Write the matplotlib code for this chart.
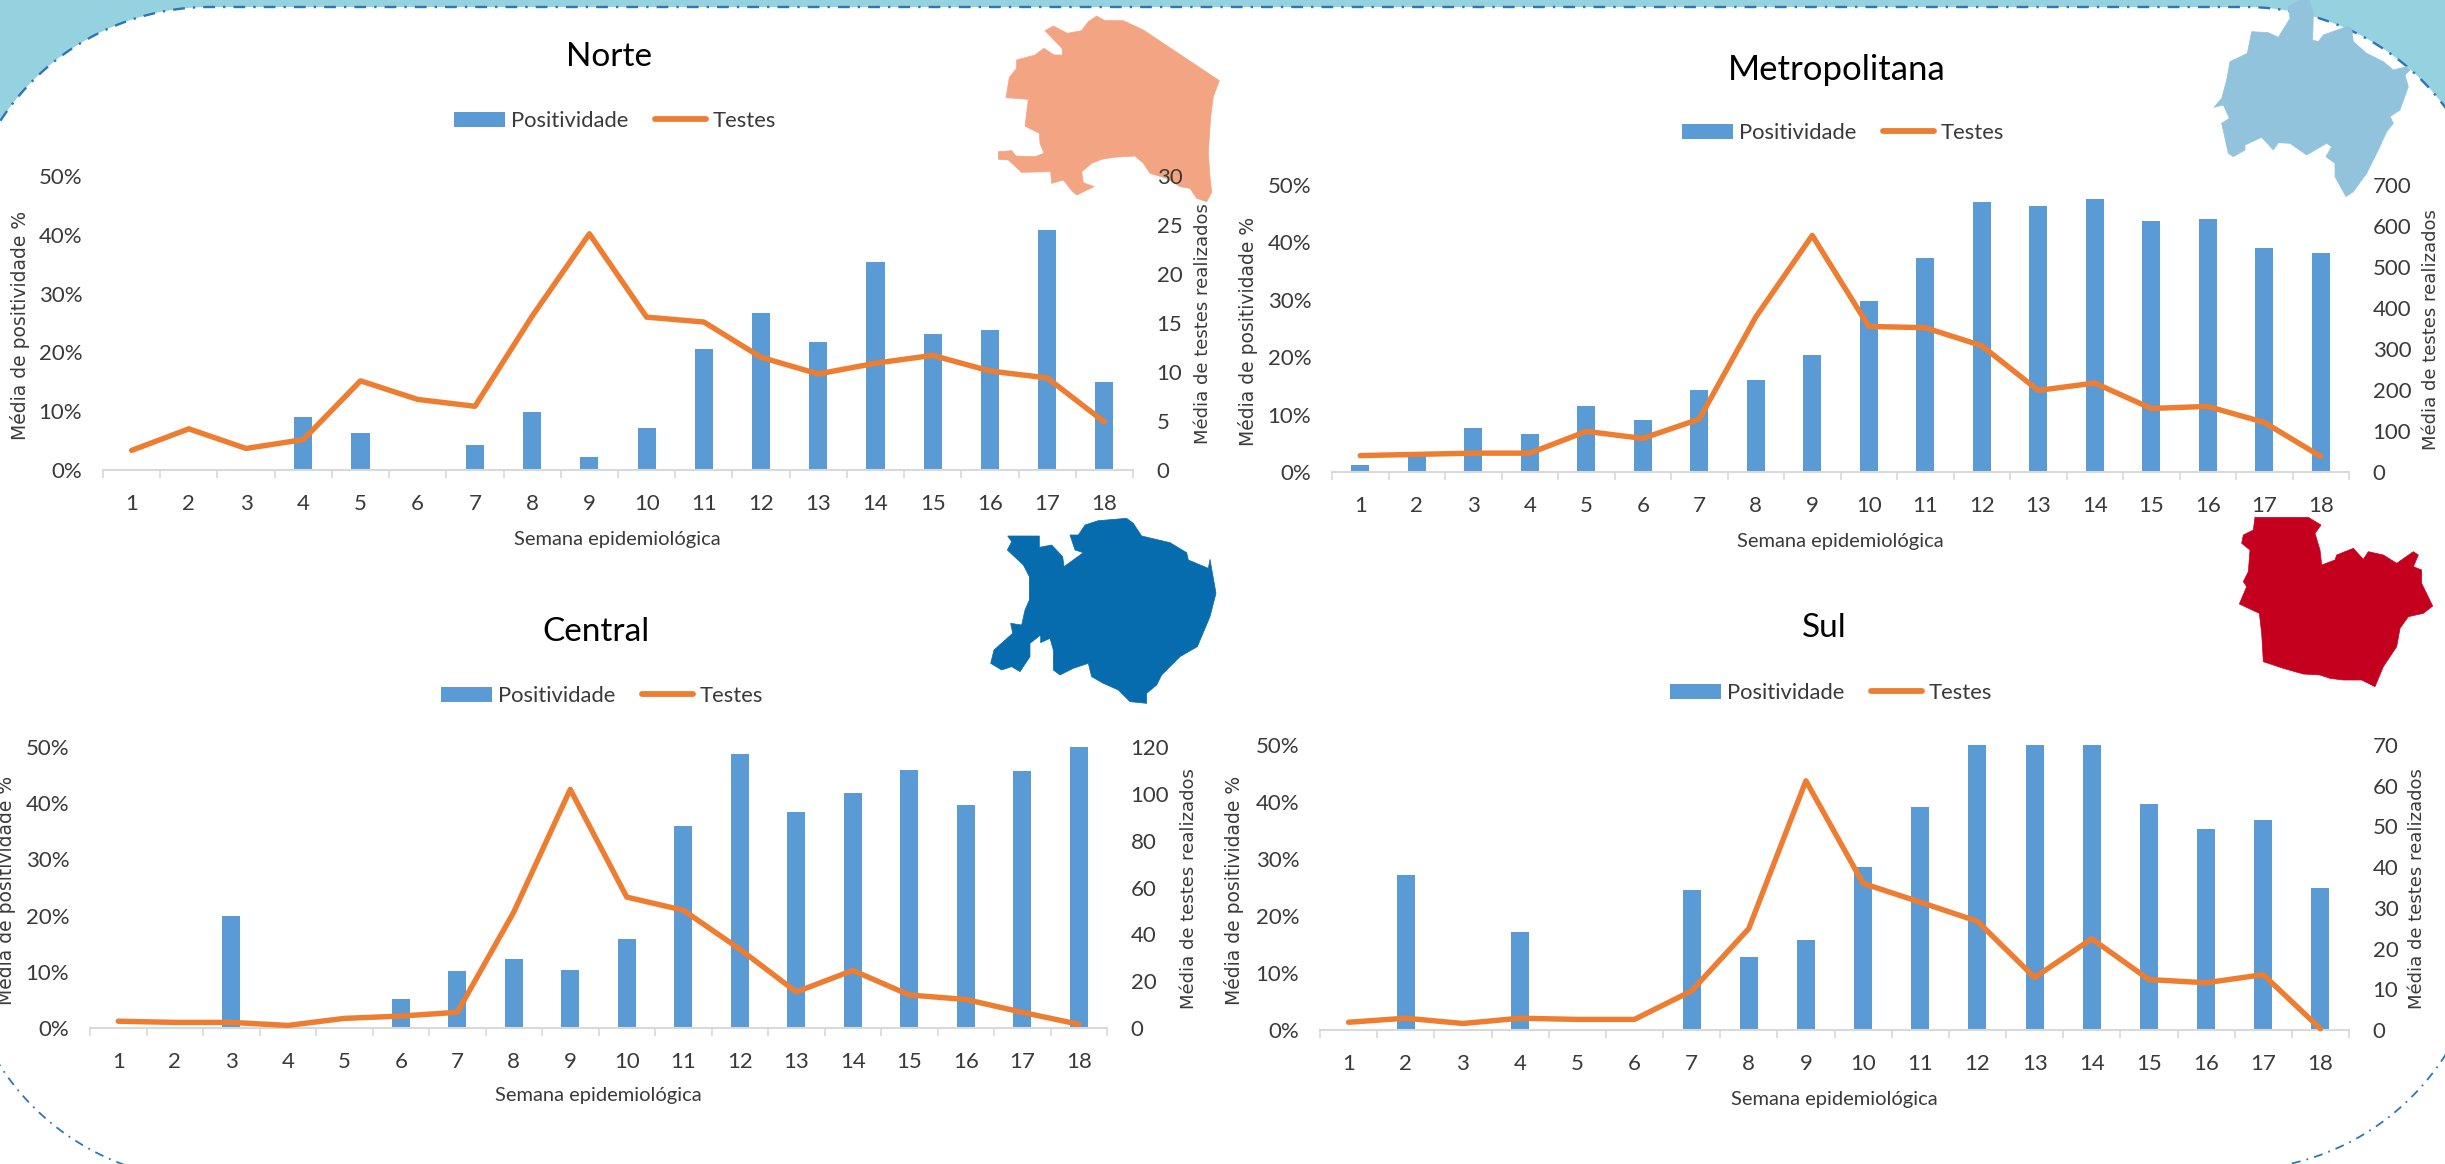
import numpy as np
import matplotlib
matplotlib.use("Agg")
import matplotlib.pyplot as plt
from matplotlib.patches import Polygon, Patch
from matplotlib.lines import Line2D
from matplotlib.ticker import FuncFormatter

W, H = 2445, 1164
plt.rcParams['font.family'] = ['Lato', 'DejaVu Sans']

weeks = list(range(1, 19))
series_names = ["Positividade", "Testes"]
xlabel_text = "Semana epidemiológica"
ylabel_left = "Média de positividade %"
ylabel_right = "Média de testes realizados"

norte_pos = [0, 0, 0, 9.0, 6.3, 0, 4.3, 9.9, 2.2, 7.2, 20.6, 26.7, 21.8, 35.4, 23.1, 23.8, 40.9, 14.9]
norte_tests = [2, 4.2, 2.2, 3.1, 9.1, 7.2, 6.5, 15.7, 24.1, 15.6, 15.1, 11.5, 9.8, 10.9, 11.7, 10.1, 9.4, 4.9]
metro_pos = [1.2, 3.2, 7.6, 6.7, 11.5, 9.0, 14.2, 16.1, 20.4, 29.8, 37.3, 47.1, 46.4, 47.5, 43.7, 44.1, 39.1, 38.2]
metro_tests = [40, 43, 46, 46, 99, 82, 129, 378, 577, 355, 352, 308, 199, 217, 155, 160, 121, 38]
central_pos = [0, 0, 19.9, 0, 0, 5.1, 10.1, 12.2, 10.4, 15.8, 36, 48.7, 38.4, 41.9, 45.9, 39.6, 45.8, 50]
central_tests = [2.9, 2.4, 2.4, 1.1, 4.1, 5.1, 6.7, 49.5, 101.9, 55.9, 50.3, 33.7, 15.4, 24.6, 14.1, 12.2, 6.7, 1.6]
sul_pos = [0, 27.2, 0, 17.2, 0, 0, 24.5, 12.8, 15.8, 28.6, 39.1, 50, 50, 50, 39.7, 35.2, 36.8, 24.9]
sul_tests = [1.9, 2.9, 1.6, 2.9, 2.6, 2.6, 9.6, 24.9, 61.2, 36, 31.4, 26.7, 12.9, 22.4, 12.4, 11.6, 13.6, 0.3]

# Decorative region outlines, traced in crop coordinates (crop origin, 3x scale)
norte_shape = [(350,48),(375,62),(430,62),(490,90),(718,242),(700,290),(692,350),(685,460),(690,530),(695,578),(680,605),(650,595),(630,565),(600,560),(560,535),(510,520),(490,490),(465,468),(400,472),(365,478),(335,490),(305,515),(310,548),(342,560),(290,585),(278,575),(250,540),(215,550),(212,515),(125,517),(85,480),(55,478),(55,455),(95,452),(108,468),(165,470),(192,460),(180,430),(178,400),(135,378),(145,298),(78,293),(88,232),(110,205),(110,180),(165,165),(192,145),(222,165),(248,165),(246,145),(195,92),(220,78),(262,100),(305,92),(325,65)]
metro_shape = [(330,0),(295,20),(300,55),(265,112),(235,98),(185,95),(172,160),(120,185),(110,240),(95,295),(72,322),(100,315),(118,355),(95,370),(115,460),(130,470),(165,450),(165,435),(215,412),(250,450),(265,428),(300,430),(350,465),(410,430),(425,440),(408,470),(435,490),(435,530),(468,590),(490,575),(530,520),(565,450),(590,395),(610,370),(600,350),(630,330),(655,260),(645,225),(660,210),(650,200),(610,210),(580,185),(530,160),(490,125),(485,85),(470,80),(400,105),(385,125),(368,120),(370,40),(358,0)]
central_shape = [(113,108),(208,108),(208,142),(245,135),(278,170),(282,200),(340,158),(315,150),(300,105),(325,105),(345,75),(385,62),(470,55),(490,70),(515,108),(600,128),(650,158),(655,180),(715,205),(720,178),(738,280),(720,350),(682,440),(630,470),(575,525),(560,555),(530,580),(530,610),(480,605),(445,570),(400,550),(365,530),(355,490),(310,505),(270,525),(250,510),(250,450),(240,415),(212,428),(212,405),(180,430),(180,470),(150,515),(125,500),(95,510),(62,490),(72,450),(128,400),(122,370),(155,375),(165,330),(178,300),(178,230),(160,195),(112,150),(125,125)]
sul_shape = [(135,52),(295,52),(333,75),(315,100),(330,150),(335,195),(375,180),(380,165),(430,145),(460,178),(475,155),(520,165),(560,190),(610,155),(625,165),(610,200),(635,210),(635,250),(668,318),(640,340),(595,350),(570,385),(560,440),(520,500),(495,560),(455,540),(400,540),(360,535),(330,525),(280,522),(220,505),(160,485),(155,400),(148,340),(88,312),(110,260),(100,245),(115,215),(120,150),(95,130),(100,105),(130,90)]

BAR = '#5B9BD5'
LINE = '#ED7D31'
TXT = '#3A3A3A'

panels = [
    dict(title="Norte", tsize=24, pos=norte_pos, tests=norte_tests, rmax=30, rstep=5,
         box=(103, 1133, 176, 470), title_xy=(609, 57), leg=(615, 121), xl=(617, 540), yl=(20, 325), yr=(1203, 324)),
    dict(title="Metropolitana", tsize=25, pos=metro_pos, tests=metro_tests, rmax=700, rstep=100,
         box=(1332, 2349, 185, 472), title_xy=(1837, 70), leg=(1843, 133), xl=(1840, 541), yl=(1248, 331), yr=(2431, 330)),
    dict(title="Central", tsize=24, pos=central_pos, tests=central_tests, rmax=120, rstep=20,
         box=(90, 1107, 747, 1028), title_xy=(596, 632), leg=(602, 696), xl=(598, 1096), yl=(6, 890), yr=(1189, 889)),
    dict(title="Sul", tsize=24, pos=sul_pos, tests=sul_tests, rmax=70, rstep=10,
         box=(1320, 2349, 745, 1030), title_xy=(1824, 628), leg=(1831, 693), xl=(1834, 1099), yl=(1234, 890), yr=(2417, 889)),
]

fig = plt.figure(figsize=(W / 100, H / 100), dpi=100, facecolor='white')

# Background layer in pixel coordinates
bg = fig.add_axes([0, 0, 1, 1], zorder=0)
bg.set_xlim(0, W)
bg.set_ylim(H, 0)
bg.axis('off')


def arc(cx, cy, r, a0, a1, n=80):
    t = np.radians(np.linspace(a0, a1, n))
    return cx + r * np.cos(t), cy + r * np.sin(t)


R = 250
TOP = 7
lx, ly = arc(210, TOP + R, R, 180, 270)
rx, ry = arc(2245, TOP + R, R, 270, 360)
tx = np.r_[lx, rx]
ty = np.r_[ly, ry]
keep = (tx >= -2) & (tx <= W + 2)
tx, ty = tx[keep], ty[keep]
bg.add_patch(Polygon(np.r_[[[0, 0]], [[0, ty[0]]], np.c_[tx, ty], [[W, ty[-1]]], [[W, 0]]],
                     closed=True, fc='#94D2DF', ec='none', zorder=1))
DASH = (0, (5, 3.4, 1, 3.4))
bg.plot(tx, ty, color='#2E75B6', lw=1.7, ls=DASH, zorder=2)
blx, bly = arc(210, 930, R, 90, 180)
brx, bry = arc(2235, 920, R, 0, 90)
for xs, ys in ((blx, bly), (brx, bry)):
    bg.plot(xs, ys, color='#2E75B6', lw=1.3, ls=DASH, zorder=2)

for shape, ox, oy, col in ((norte_shape, 980, 0, '#F3A583'), (metro_shape, 2190, 0, '#92C3DD'),
                           (central_shape, 970, 500, '#066CAD'), (sul_shape, 2210, 500, '#C5001F')):
    pts = np.array(shape, float) / 3 + [ox, oy]
    bg.add_patch(Polygon(pts, closed=True, fc=col, ec=col, lw=0.5, zorder=3))


def fx(x):
    return x / W


def fy(y):
    return 1 - y / H


for p in panels:
    x0, x1, y_top, y_bot = p['box']
    ax = fig.add_axes([fx(x0), fy(y_bot), (x1 - x0) / W, (y_bot - y_top) / H], zorder=2)
    ax.patch.set_alpha(0)
    ax.bar(weeks, p['pos'], width=0.315, color=BAR, zorder=2)
    ax.set_xlim(0.5, 18.5)
    ax.set_ylim(0, 50)
    ax.set_yticks(range(0, 51, 10))
    ax.yaxis.set_major_formatter(FuncFormatter(lambda v, _: f"{int(v)}%"))
    ax.set_xticks(weeks)
    ax.set_xticks(np.arange(0.5, 19, 1), minor=True)
    ax.tick_params(axis='x', which='major', length=0, pad=17, labelsize=16, labelcolor=TXT)
    ax.tick_params(axis='x', which='minor', length=6, width=1.2, color='#D9D9D9')
    ax.tick_params(axis='y', length=0, pad=15, labelsize=16, labelcolor=TXT)
    for s in ('top', 'left', 'right'):
        ax.spines[s].set_visible(False)
    ax.spines['bottom'].set_color('#D9D9D9')
    ax.spines['bottom'].set_linewidth(1.5)

    ax2 = ax.twinx()
    ax2.set_zorder(3)
    ax2.patch.set_alpha(0)
    ax2.plot(weeks, p['tests'], color=LINE, lw=3.9, solid_capstyle='round', solid_joinstyle='round', clip_on=False)
    ax2.set_ylim(0, p['rmax'])
    ax2.set_yticks(range(0, p['rmax'] + 1, p['rstep']))
    ax2.tick_params(axis='y', length=0, pad=17, labelsize=16, labelcolor=TXT)
    for s in ('top', 'left', 'right', 'bottom'):
        ax2.spines[s].set_visible(False)

    fig.text(fx(p['title_xy'][0]), fy(p['title_xy'][1]), p['title'], ha='center', va='center',
             fontsize=p['tsize'], color='black', zorder=5)
    fig.text(fx(p['xl'][0]), fy(p['xl'][1]), xlabel_text, ha='center', va='center',
             fontsize=14.5, color=TXT, zorder=5)
    fig.text(fx(p['yl'][0]), fy(p['yl'][1]), ylabel_left, ha='center', va='center', rotation=90,
             fontsize=13.5, color=TXT, family='DejaVu Sans', zorder=5)
    fig.text(fx(p['yr'][0]), fy(p['yr'][1]), ylabel_right, ha='center', va='center', rotation=90,
             fontsize=13, color=TXT, family='DejaVu Sans', zorder=5)
    handles = [Patch(fc=BAR, ec='none'), Line2D([0], [0], color=LINE, lw=4.2, solid_capstyle='round')]
    fig.legend(handles, series_names, loc='center', ncol=2, frameon=False, fontsize=15.8,
               bbox_to_anchor=(fx(p['leg'][0]), fy(p['leg'][1])), handlelength=2.3, handleheight=0.72,
               handletextpad=0.3, columnspacing=1.2, labelcolor=TXT, borderpad=0, borderaxespad=0)

fig.savefig('out.png', dpi=100)
